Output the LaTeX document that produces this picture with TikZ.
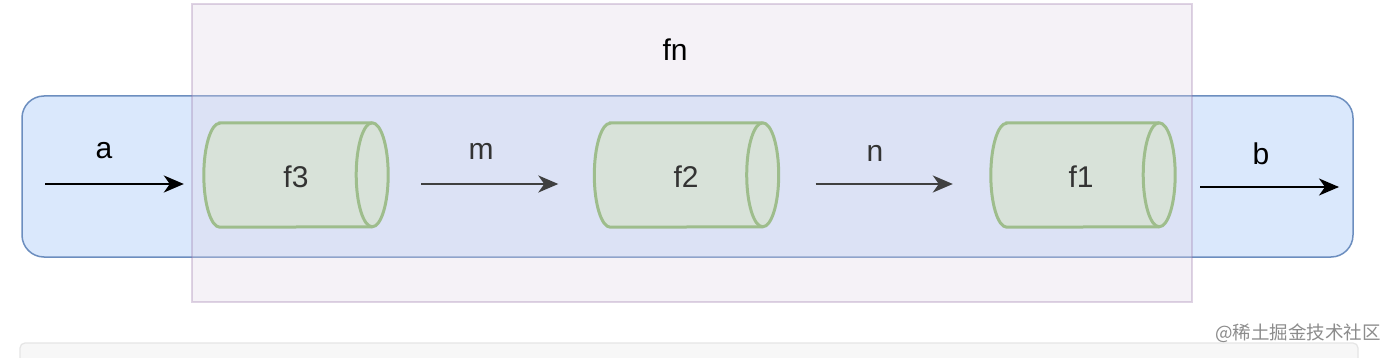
\documentclass[tikz,border=0pt]{standalone}
\usepackage{fontspec}
\setmainfont{Liberation Sans}
\newfontfamily\cjk{Noto Sans CJK SC}
\usetikzlibrary{arrows.meta}
\definecolor{fnfill}{HTML}{E1D5E7}
\definecolor{fnline}{HTML}{9673A6}
\definecolor{bluefill}{HTML}{DAE8FC}
\definecolor{blueline}{HTML}{6C8EBF}
\definecolor{greenfill}{HTML}{D5E8D4}
\definecolor{greenline}{HTML}{82B366}
\definecolor{txt}{HTML}{333333}
\definecolor{arrowgray}{HTML}{404040}
\tikzset{
  lbl/.style={font=\fontsize{30}{30}\selectfont, text=txt, inner sep=0pt},
  flow/.style={line width=2pt, -{Stealth[length=20pt,width=17pt,inset=6pt]}},
  cylbox/.style={draw=none, minimum width=184pt, minimum height=104pt, inner sep=0pt},
}
\newcommand{\drawcyl}[1]{%
  \draw[greenline, line width=3pt, fill=greenfill]
    ([xshift=16pt]#1.north west) -- ([xshift=-16pt]#1.north east)
    arc[start angle=90, end angle=-90, x radius=16pt, y radius=52pt]
    -- ([xshift=16pt]#1.south west)
    arc[start angle=270, end angle=90, x radius=16pt, y radius=52pt] -- cycle;
  \draw[greenline, line width=3pt]
    ([xshift=-16pt]#1.north east)
    arc[start angle=90, end angle=270, x radius=16pt, y radius=52pt];
}
\begin{document}
\begin{tikzpicture}[x=1pt, y=1pt]
\useasboundingbox (0,0) rectangle (1386,-358);
\fill[white] (0,0) rectangle (1386,-358);
% blue band
\node[draw=blueline, fill=bluefill, line width=1.5pt, rounded corners=22pt, minimum width=1331pt, minimum height=161pt, inner sep=0pt] (band) at (687.5,-176.5) {};
% cylinders
\node[cylbox] (c3) at (296,-175) {};
\node[cylbox] (c2) at (686.5,-175) {};
\node[cylbox] (c1) at (1083,-175) {};
\drawcyl{c3}
\drawcyl{c2}
\drawcyl{c1}
% fn container on top, translucent
\node[draw=fnline, fill=fnfill, fill opacity=0.3, draw opacity=0.3, line width=1.5pt, minimum width=1000pt, minimum height=298pt, inner sep=0pt] (fn) at (692,-153) {};
% arrows
\coordinate (a0) at (45,-184);
\coordinate (a1) at ([xshift=-20pt]c3.west |- a0);
\draw[flow, black] (a0) -- (a1);
\coordinate (m0) at ([xshift=33pt]c3.east |- 0,-184);
\coordinate (m1) at ([xshift=-36pt]c2.west |- 0,-184);
\draw[flow, arrowgray] (m0) -- (m1);
\coordinate (n0) at ([xshift=37pt]c2.east |- 0,-184);
\coordinate (n1) at ([xshift=-38pt]c1.west |- 0,-184);
\draw[flow, arrowgray] (n0) -- (n1);
\coordinate (b0) at (1200,-187);
\coordinate (b1) at (1339,-187);
\draw[flow, black] (b0) -- (b1);
% labels
\node[lbl, text=black] (fnlbl) at (675,-50) {fn};
\node[lbl] (f3) at (296,-177) {f3};
\node[lbl] (f2) at (686,-177) {f2};
\node[lbl] (f1) at (1081,-177) {f1};
\node[lbl, text=black] (al) at (104,-151) {a};
\node[lbl] (ml) at (481,-151) {m};
\node[lbl] (nl) at (875,-153) {n};
\node[lbl, text=black] (bl) at (1261,-154) {b};
% bottom panel and watermark
\draw[draw=black!10, fill=black!3, line width=1.2pt, rounded corners=5pt] (20,-375) rectangle (1358,-343);
\node[font=\cjk\fontsize{18.5}{18.5}\selectfont, text=black!45, anchor=east, inner sep=0pt] (wm) at (1381,-333) {@稀土掘金技术社区};
\end{tikzpicture}
\end{document}
